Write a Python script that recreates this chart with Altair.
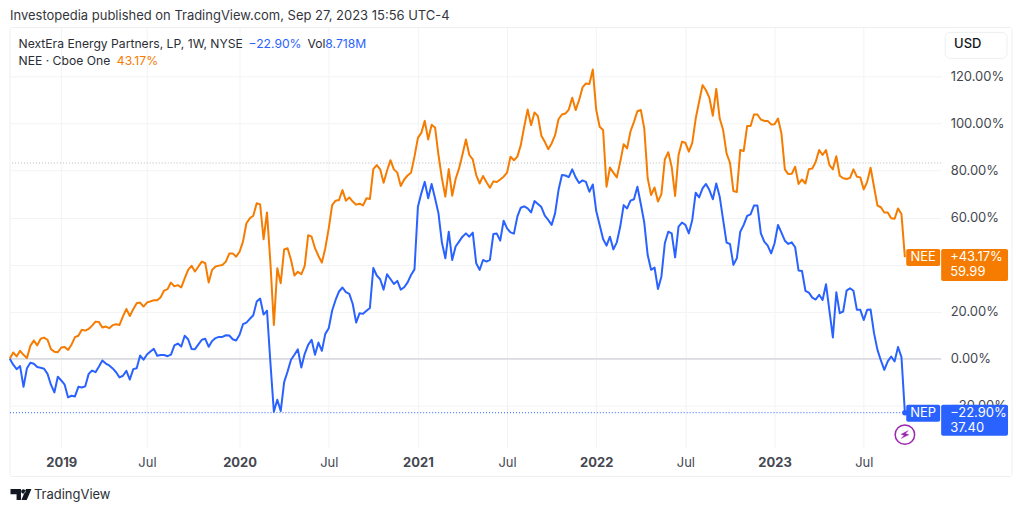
import altair as alt
import pandas as pd

nep_pct = [
 0, -2.5, -4.4, -3.1, -11.9, -4.0, -1.7, -2.1, -3.5, -3.8, -4.2, -6.4, -11, -14.3, -7.6, -9.2, -11, -16.4, -15.7, -16,
 -11.9, -12.2, -11.7, -6.4, -5, -5.7, -3.3, -0.7, -2, -2.8, -4.1, -5.7, -7.9, -7.2, -5.1, -8.8, -4.4, -4, 1.4, -0.4,
 1.8, 3.1, 4.2, 1.3, 1.6, 1.6, 1.1, 1.8, 5.7, 6.5, 5.2, 9.8, 8.3, 4.2, 4.1, 6.1, 8.1, 8.5, 5.1, 7.6,
 8.8, 9.3, 9.3, 10, 9.9, 8.3, 7.8, 10.2, 14.7, 15.4, 17, 18.5, 24.3, 25.6, 18.8, 20.4, -1.8, -22.5, -17.4, -22.2,
 -9.9, -5.4, -0.4, 1.7, 4, -3.7, 2.1, 5.9, 8.1, 1.7, 6.9, 3.4, 10.6, 13, 20.5, 25, 28.6, 30.3, 28.3, 27.6,
 23.3, 15.4, 19.4, 19.1, 20.4, 21.6, 38.6, 35.4, 33.8, 29.4, 35.9, 33.9, 31.8, 33.1, 29.4, 30.4, 32.5, 35.6, 38, 64.6,
 70.3, 75.2, 68.2, 74.3, 68.2, 61.8, 49.4, 42.7, 54, 42, 47.7, 49.8, 51.9, 53.3, 51.9, 53.6, 40.6, 37.8, 42, 41.3,
 42, 53, 53.2, 50.2, 58.7, 55.4, 53.7, 53.2, 60.4, 64.2, 64.8, 63.9, 62.2, 67, 65.8, 64.5, 60.8, 59, 56.9, 61.8,
 71.7, 78.1, 77.9, 77.2, 80.5, 77.1, 74.7, 75.8, 75.2, 71, 74.1, 62.8, 56.9, 50.9, 48.1, 51.9, 46.5, 49.5, 56.2, 65.3,
 63.9, 67.2, 67.8, 73.1, 65.8, 57.9, 44.1, 37.8, 38.8, 29.7, 34.9, 49.1, 54, 53.3, 43.1, 56.2, 57.9, 56.9, 53.3, 59,
 70.6, 68.6, 72.4, 74.3, 71.7, 67.8, 74.5, 68.9, 59, 49.4, 48.8, 39.9, 42.7, 54, 56.9, 60.7, 61.4, 65.1, 65.1, 53.3,
 49.8, 48.1, 44.8, 49.1, 56.9, 53.6, 50.2, 48.8, 49.5, 47.4, 37.5, 37.3, 28.9, 28.1, 26, 25.2, 27.2, 25, 31.7, 20.4,
 9.1, 28.3, 19.4, 20.1, 29, 30, 28.9, 20.8, 20.8, 16.5, 20.8, 20.9, 10.9, 3.8, -0.7, -4.7, -1.1, 1, -1.1, 5,
 0.7, -22.9]

nee_pct = [
 0, 2.7, 1, 3.4, 1.7, 0.3, 5.5, 7.8, 5.7, 8.5, 9, 8.1, 4.1, 3, 2.8, 4.8, 5, 3.8, 6, 9.2,
 9.8, 12.3, 12, 12.7, 14.1, 15.8, 15.6, 13.3, 13.7, 13, 14.3, 14.7, 14.4, 18, 21.2, 18.2, 21.1, 23.6, 23.9, 22.2,
 23.9, 24.4, 24.9, 24.9, 26.2, 29, 29.6, 32.4, 30.8, 31.3, 30.3, 34.2, 37.8, 39.5, 37.1, 39.2, 41.3, 40.6, 32.4, 37.8,
 39.2, 39.6, 39.9, 41.3, 44.7, 44.8, 43.4, 45.5, 49.8, 57.6, 59.7, 60.8, 66.1, 65.6, 50.8, 62.2, 40.6, 14.4, 38.5, 32.1,
 46.5, 47, 42, 35.4, 37, 35.9, 39.5, 52.5, 51.9, 47, 43.7, 40.9, 47, 55.4, 65.3, 67.2, 67.5, 71.7, 67.2, 68.6,
 66.8, 65.5, 65.9, 65.2, 68.2, 67.9, 80.6, 82.3, 80.5, 74.8, 79.9, 84.4, 80.5, 79.1, 73.4, 76.2, 77.9, 79.1, 85.9, 93.9,
 96, 101.1, 93.2, 99.4, 98.3, 86.6, 76.7, 68.9, 80.6, 69.3, 76.4, 80.9, 86.8, 93.2, 86.6, 84.7, 78.1, 74.5, 77.7, 75,
 72.7, 75.4, 75.1, 76.2, 77.4, 79.1, 85.9, 84.4, 85.9, 90.8, 98.6, 105.9, 99.3, 104.7, 103.1, 94.8, 92.2, 89.1, 91.5, 95,
 101.8, 103.8, 104.2, 105.9, 110.9, 105.7, 109.9, 115.3, 117, 116.8, 122.9, 105.7, 98.6, 97.2, 73.1, 81.3, 79.1, 77.1, 83.7, 91.2,
 89.4, 96.7, 100.7, 105.2, 105.7, 97.9, 76.7, 69.6, 72.8, 66.8, 70, 84.7, 87.8, 81.6, 69.2, 86.6, 92.2, 91.8, 88, 91.8,
 102.1, 109.2, 116.3, 114.1, 110.9, 103.3, 114.7, 102.1, 97.2, 87.3, 83.3, 71.3, 70.9, 88.7, 88.3, 98.9, 98.9, 103.8, 103.8, 101.7,
 101.1, 101.1, 99.6, 99.7, 102.1, 95.8, 80.5, 78.5, 78.6, 81.6, 74.3, 76.2, 74.5, 80.6, 80.9, 83.7, 88.7, 86.6, 88.7, 82.3,
 80.5, 86.1, 77.8, 76.7, 76.4, 76.9, 80.5, 77.4, 77.1, 72, 75.2, 81.2, 73.1, 65.1, 64.4, 62.2, 62.2, 59.7, 59.5, 63.9,
 61.5, 43.17]

assert len(nep_pct) == 262 and len(nee_pct) == 262, (len(nep_pct), len(nee_pct))

weeks = pd.date_range("2018-09-24", periods=262, freq="7D").strftime("%Y-%m-%d").tolist()
y_ticks = [-20, 0, 20, 40, 60, 80, 100, 120]
x_tick_dates = [(2019, 1, 7), (2019, 7, 1), (2020, 1, 6), (2020, 7, 6), (2021, 1, 4),
                (2021, 7, 5), (2022, 1, 3), (2022, 7, 4), (2023, 1, 2), (2023, 7, 3)]
months = ["jan", "feb", "mar", "apr", "may", "jun", "jul"]

BLUE = "#2962ff"
ORANGE = "#f57c00"
INK = "#131722"
AXIS_INK = "#44474f"
GRID = "#f2f3f5"
FONT = "Inter"

df = pd.DataFrame({"week": weeks, "NEP": nep_pct, "NEE": nee_pct})

x_scale = alt.Scale(domain=["2018-09-24T10:00:00", "2023-12-08T00:00:00"], nice=False)
y_scale = alt.Scale(domain=[-37.74, 140.8], nice=False)

x_axis = alt.Axis(
    values=[alt.DateTime(year=y, month=months[m - 1], date=d) for y, m, d in x_tick_dates],
    labelExpr="month(datum.value) == 0 ? timeFormat(datum.value, '%Y') : 'Jul'",
    labelOverlap=False, labelFlush=False, title=None, ticks=False, domain=False, labelPadding=9,
    labelFont=FONT, labelFontSize=13, labelColor=AXIS_INK,
    labelFontWeight=alt.condition("month(datum.value) == 0", alt.value(700), alt.value(400)),
    grid=True, gridColor=GRID, gridWidth=1,
)
# The 40% tick keeps its grid line; its label sits entirely behind the NEE price tag in the reference.
y_axis = alt.Axis(
    values=y_ticks, orient="right",
    labelExpr="datum.value == 40 ? '' : replace(format(datum.value, '.2f'), '-', '−') + '%'",
    labelOverlap=False, labelFlush=False, title=None, ticks=False, domain=False, labelPadding=9,
    labelFont=FONT, labelFontSize=13, labelColor=AXIS_INK,
    grid=True, gridColor=GRID, gridWidth=1,
)

base = alt.Chart(df)
one = alt.Chart(alt.Data(values=[{}]))


def line(series, color):
    return base.mark_line(color=color, strokeWidth=2, strokeJoin="round", interpolate="linear").encode(
        x=alt.X("week:T", scale=x_scale, axis=x_axis),
        y=alt.Y(f"{series}:Q", scale=y_scale, axis=y_axis),
    )


def hline(value, color, width=1, dash=None):
    kw = {"strokeDash": dash} if dash else {}
    return one.mark_rule(color=color, strokeWidth=width, **kw).encode(
        y=alt.datum(value, scale=y_scale, type="quantitative"),
    )


def box(x0, x1, y0, y1, color, radius=2):
    return one.mark_rect(fill=color, cornerRadius=radius).encode(
        x=alt.value(x0 - 10), x2=alt.value(x1 - 10), y=alt.value(y0 - 27), y2=alt.value(y1 - 27))


def label(text, x, y, color=INK, size=13, weight=400, align="left"):
    return one.mark_text(text=text, color=color, fontSize=size, fontWeight=weight, font=FONT,
                         align=align, baseline="middle").encode(
        x=alt.value(x - 10), y=alt.value(y - 27))


frame = one.mark_rect(fill="transparent", stroke="#eeeff1", strokeWidth=1, cornerRadius=2).encode(
    x=alt.value(0), x2=alt.value(1004), y=alt.value(0), y2=alt.value(450))
usd = one.mark_rect(fill="white", stroke="#eeeff1", strokeWidth=1, cornerRadius=5).encode(
    x=alt.value(937), x2=alt.value(999), y=alt.value(5), y2=alt.value(31))

last = alt.Chart(alt.Data(values=[{"week": weeks[-1], "NEP": nep_pct[-1]}]))
dot = last.mark_circle(color=BLUE, size=30, opacity=1).encode(
    x=alt.X("week:T", scale=x_scale), y=alt.Y("NEP:Q", scale=y_scale))
ring = last.mark_point(shape="circle", size=380, stroke="#9c27b0", strokeWidth=1.5, fill="white",
                       filled=False, opacity=1).encode(
    x=alt.X("week:T", scale=x_scale), y=alt.value(435 - 27))
bolt = last.mark_point(
    shape="M0.35,-1 L-0.75,0.2 L-0.1,0.2 L-0.45,1 L0.75,-0.25 L0.05,-0.25 Z",
    size=100, fill="#9c27b0", stroke="#9c27b0", strokeWidth=0.3, filled=True, opacity=1,
).encode(x=alt.X("week:T", scale=x_scale), y=alt.value(435 - 27), angle=alt.value(20))

logo = one.mark_point(
    shape="M-1,-0.52 H0 V0.52 H-0.42 V-0.02 H-1 Z "
          "M0.02,-0.3 a0.21,0.21 0 1 0 0.42,0 a0.21,0.21 0 1 0 -0.42,0 Z "
          "M0.48,-0.52 H1 L0.55,0.52 H0.04 Z",
    size=441, fill=INK, strokeWidth=0, filled=True, opacity=1,
).encode(x=alt.value(21 - 10), y=alt.value(495 - 27))

LEG = 12.2
layers = [
    frame,
    hline(0, "#cfd0d6", 1.2),
    hline(83.2, "#b9bbc2", 1, [1, 2]),
    line("NEE", ORANGE),
    line("NEP", BLUE),
    hline(-22.9, BLUE, 1, [1, 2]).encode(x=alt.value(0), x2=alt.value(896)),
    dot, ring, bolt,
    usd,
    label("USD", 956, 44, INK, 13, 500),
    box(908, 942, 249, 266, ORANGE),
    box(943, 1010, 249, 281, ORANGE),
    label("NEE", 925, 257.5, "#ffffff", 13, 400, "center"),
    label("+43.17%", 952, 257, "#ffffff", 13),
    label("59.99", 952, 272.5, "#ffffff", 13),
    box(908, 942, 405, 422, BLUE),
    box(943, 1010, 405, 436, BLUE),
    label("NEP", 925, 413.5, "#ffffff", 13, 400, "center"),
    label("−22.90%", 952, 413, "#ffffff", 13),
    label("37.40", 952, 428.5, "#ffffff", 13),
    label("Investopedia published on TradingView.com, Sep 27, 2023 15:56 UTC-4", 10, 15.5, "#33363d", 13),
    label("NextEra Energy Partners, LP, 1W, NYSE", 18.5, 43.5, "#2b2e36", LEG),
    label("−22.90%", 249, 43.5, BLUE, LEG),
    label("Vol", 308, 43.5, "#2b2e36", LEG),
    label("8.718M", 326, 43.5, BLUE, LEG),
    label("NEE · Cboe One", 18.5, 60.5, "#2b2e36", LEG),
    label("43.17%", 117, 60.5, ORANGE, LEG),
    logo,
    label("TradingView", 34, 495, "#2b2e36", 13),
]

chart = alt.layer(*layers).properties(
    width=933, height=421,
    padding={"left": 2, "top": 19, "right": 75, "bottom": 56},
    autosize=alt.AutoSizeParams(type="none"),
    background="white",
).configure_view(stroke=None).configure_axis(labelBound=False)

chart.save("out.html", embed_options={"renderer": "svg", "actions": False})
